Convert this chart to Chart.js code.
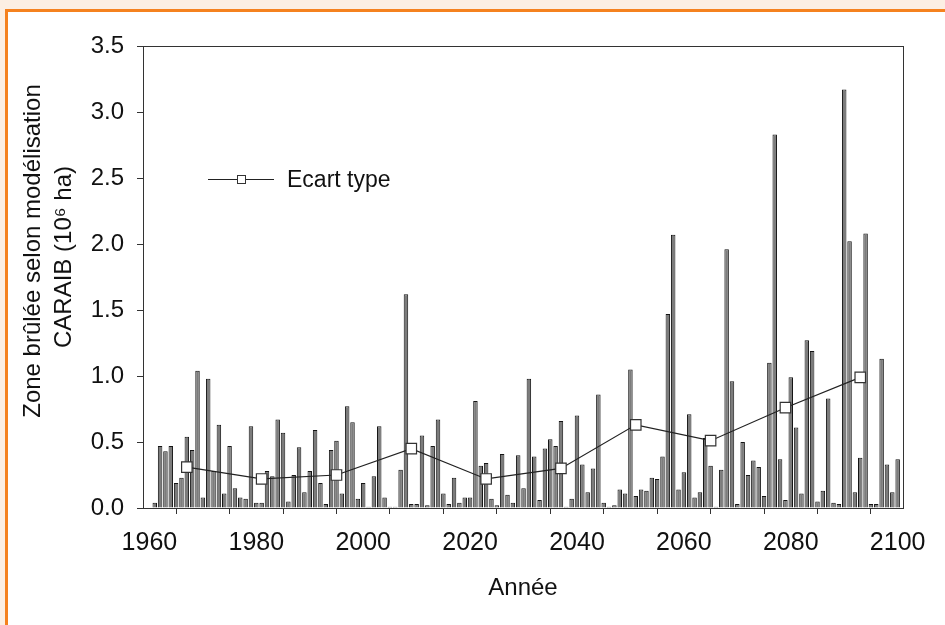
<!DOCTYPE html>
<html>
<head>
<meta charset="utf-8">
<script src="https://cdn.jsdelivr.net/npm/chart.js@4.4.1/dist/chart.umd.min.js"></script>
<style>
  html, body { margin: 0; padding: 0; width: 945px; height: 625px; overflow: hidden; background: #fcefe3; }
  #frame { position: absolute; left: 5px; top: 9px; width: 960px; height: 640px; background: #ffffff;
           border-left: 3px solid #f5821f; border-top: 3px solid #f5821f; }
  #wrap { position: absolute; left: 0; top: 0; width: 945px; height: 625px; }
</style>
</head>
<body>
<div id="frame"></div>
<div id="wrap"><canvas id="c" width="945" height="625"></canvas></div>
<script>
// ---- data ----
const years = [];
for (let y = 1961; y <= 2100; y++) years.push(y);

const burnedArea = [
  0.04, 0.47, 0.43, 0.47, 0.19, 0.23, 0.54, 0.44, 1.04, 0.08, // 1961-1970
  0.98, 0.28, 0.63, 0.11, 0.47, 0.15, 0.08, 0.07, 0.62, 0.04, // 1971-1980
  0.04, 0.28, 0.24, 0.67, 0.57, 0.05, 0.25, 0.46, 0.12, 0.28, // 1981-1990
  0.59, 0.19, 0.03, 0.44, 0.51, 0.11, 0.77, 0.65, 0.07, 0.19, // 1991-2000
  0.01, 0.24, 0.62, 0.08, 0.01, 0.01, 0.29, 1.62, 0.03, 0.03, // 2001-2010
  0.55, 0.02, 0.47, 0.67, 0.11, 0.03, 0.23, 0.04, 0.08, 0.08, // 2011-2020
  0.81, 0.32, 0.34, 0.07, 0.02, 0.41, 0.10, 0.04, 0.40, 0.15, // 2021-2030
  0.98, 0.39, 0.06, 0.45, 0.52, 0.47, 0.66, 0.01, 0.07, 0.70, // 2031-2040
  0.33, 0.12, 0.30, 0.86, 0.04, 0.01, 0.02, 0.14, 0.11, 1.05, // 2041-2050
  0.09, 0.14, 0.13, 0.23, 0.22, 0.39, 1.47, 2.07, 0.14, 0.27, // 2051-2060
  0.71, 0.08, 0.12, 0.53, 0.32, 0.01, 0.29, 1.96, 0.96, 0.03, // 2061-2070
  0.50, 0.25, 0.36, 0.31, 0.09, 1.10, 2.83, 0.37, 0.06, 0.99, // 2071-2080
  0.61, 0.11, 1.27, 1.19, 0.05, 0.13, 0.83, 0.04, 0.03, 3.17, // 2081-2090
  2.02, 0.12, 0.38, 2.08, 0.03, 0.03, 1.13, 0.33, 0.12, 0.37  // 2091-2100
];

const sdYears  = [1967, 1981, 1995, 2009, 2023, 2037, 2051, 2065, 2079, 2093];
const sdValues = [0.31, 0.22, 0.25, 0.45, 0.22, 0.30, 0.63, 0.51, 0.76, 0.99];

const xTickValues = [1960, 1970, 1980, 1990, 2000, 2010, 2020, 2030, 2040, 2050, 2060, 2070, 2080, 2090, 2100];
const yTickValues = [0, 0.5, 1.0, 1.5, 2.0, 2.5, 3.0, 3.5];

const sdLabel = 'Ecart type';
const xTitle = 'Année';
const yTitle = ['Zone brûlée selon modélisation', 'CARAIB (10\u2076 ha)'];

// ---- chart ----
const FONT = "'Liberation Sans', Arial, Helvetica, sans-serif";
const AXIS = '#333333';

const framePlugin = {
  id: 'framePlugin',
  afterDraw(chart) {
    const a = chart.chartArea, ctx = chart.ctx;
    ctx.save();
    ctx.strokeStyle = AXIS;
    ctx.lineWidth = 1;
    ctx.strokeRect(Math.round(a.left) + 0.5, Math.round(a.top) + 0.5,
                   Math.round(a.right - a.left), Math.round(a.bottom - a.top));
    ctx.restore();
  }
};

// y-axis title drawn beside the axis (two lines, rotated), centred a little above the plot centre
const yTitlePlugin = {
  id: 'yTitlePlugin',
  afterDraw(chart) {
    const ctx = chart.ctx;
    ctx.save();
    ctx.fillStyle = '#111';
    ctx.font = '24px ' + FONT;
    ctx.textAlign = 'center';
    ctx.textBaseline = 'alphabetic';
    const cy = 251;
    const baselines = [39.5, 71];
    yTitle.forEach((t, i) => {
      ctx.save();
      ctx.translate(baselines[i], cy + (i === 1 ? 6 : 0));
      ctx.rotate(-Math.PI / 2);
      ctx.fillText(t, 0, 0);
      ctx.restore();
    });
    ctx.restore();
  }
};

const legendPlugin = {
  id: 'legendPlugin',
  afterDraw(chart) {
    const ctx = chart.ctx;
    const y = 179.5;
    ctx.save();
    ctx.strokeStyle = '#222';
    ctx.lineWidth = 1;
    ctx.beginPath(); ctx.moveTo(208, y); ctx.lineTo(274, y); ctx.stroke();
    ctx.fillStyle = '#fff';
    ctx.fillRect(237.5, y - 4, 8, 8);
    ctx.strokeStyle = '#333';
    ctx.strokeRect(237.5, y - 4, 8, 8);
    ctx.fillStyle = '#111';
    ctx.font = '23px ' + FONT;
    ctx.textBaseline = 'middle';
    ctx.textAlign = 'left';
    ctx.fillText(sdLabel, 287, y + 1);
    ctx.restore();
  }
};

new Chart(document.getElementById('c'), {
  type: 'bar',
  data: {
    datasets: [
      {
        type: 'line',
        label: sdLabel,
        data: sdYears.map((x, i) => ({ x: x, y: sdValues[i] })),
        borderColor: '#222',
        borderWidth: 1.2,
        pointStyle: 'rect',
        pointRadius: 7.4,
        pointBackgroundColor: '#ffffff',
        pointBorderColor: '#333',
        pointBorderWidth: 1.2,
        tension: 0,
        order: 0
      },
      {
        type: 'bar',
        label: 'Zone brûlée',
        data: years.map((x, i) => ({ x: x, y: burnedArea[i] })),
        backgroundColor: '#7c7c7c',
        borderColor: '#151515',
        borderWidth: 1,
        barPercentage: 0.84,
        categoryPercentage: 1.0,
        order: 1
      }
    ]
  },
  plugins: [framePlugin, yTitlePlugin, legendPlugin],
  options: {
    responsive: false,
    animation: false,
    devicePixelRatio: 1,
    layout: { padding: { left: 0, right: 42, top: 46, bottom: 0 } },
    plugins: { legend: { display: false }, tooltip: { enabled: false } },
    scales: {
      x: {
        type: 'linear',
        min: 1958.8,
        max: 2101.0,
        offset: false,
        afterBuildTicks(scale) { scale.ticks = xTickValues.map(v => ({ value: v })); },
        afterFit(scale) { scale.height = 117; },
        border: { display: false },
        grid: { display: true, drawOnChartArea: false, drawTicks: true, tickLength: 6, color: AXIS },
        ticks: {
          color: '#111',
          font: { family: FONT, size: 25 },
          padding: 14,
          maxRotation: 0,
          autoSkip: false,
          callback: (v) => (v % 20 === 0 ? String(v) : '')
        },
        title: {
          display: true,
          text: xTitle,
          color: '#111',
          font: { family: FONT, size: 24 },
          padding: { top: 0, bottom: 22 },
          align: 'center'
        }
      },
      y: {
        type: 'linear',
        min: 0,
        max: 3.5,
        afterBuildTicks(scale) { scale.ticks = yTickValues.map(v => ({ value: v })); },
        afterFit(scale) { scale.width = 143; },
        border: { display: false },
        grid: { display: true, drawOnChartArea: false, drawTicks: true, tickLength: 6, color: AXIS },
        ticks: {
          color: '#111',
          font: { family: FONT, size: 24 },
          padding: 13,
          callback: (v) => Number(v).toFixed(1)
        },
        title: { display: false }
      }
    }
  }
});
</script>
</body>
</html>
